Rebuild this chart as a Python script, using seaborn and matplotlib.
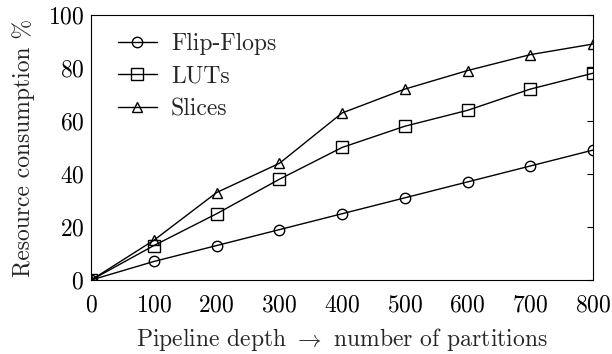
import matplotlib
matplotlib.use("Agg")
import matplotlib.pyplot as plt
import seaborn as sns
import pandas as pd

depth = [0, 100, 200, 300, 400, 500, 600, 700, 800]
flip_flops = [0, 7, 13, 19, 25, 31, 37, 43, 49]
luts = [0, 13, 25, 38, 50, 58, 64, 72, 78]
slices = [0, 15, 33, 44, 63, 72, 79, 85, 89]
series_names = ["Flip-Flops", "LUTs", "Slices"]
x_ticks = [0, 100, 200, 300, 400, 500, 600, 700, 800]
y_ticks = [0, 20, 40, 60, 80, 100]

sns.set_theme(style="white")
plt.rcParams["font.family"] = ["cmr10", "DejaVu Serif"]
plt.rcParams["mathtext.fontset"] = "cm"
plt.rcParams["axes.formatter.use_mathtext"] = True

FS = 17

fig = plt.figure(figsize=(6.12, 3.54), dpi=100)
ax = fig.add_axes([0.149, 0.209, 0.82, 0.749])

markers = ["o", "s", "^"]
sizes = [7.5, 8, 7.5]
for name, vals, m, ms in zip(series_names, [flip_flops, luts, slices], markers, sizes):
    df = pd.DataFrame({"depth": depth, "value": vals})
    sns.lineplot(data=df, x="depth", y="value", ax=ax, color="black",
                 marker=m, markersize=ms,
                 markerfacecolor="none", markeredgecolor="black",
                 markeredgewidth=1.0, linewidth=1.0, label=name)

ax.set_xlim(0, 800)
ax.set_ylim(0, 100)
ax.set_xticks(x_ticks)
ax.set_yticks(y_ticks)
ax.tick_params(direction="in", length=4.5, width=0.8, right=True, top=False,
               labelsize=FS, colors="black")
ax.tick_params(axis="x", pad=10)
ax.tick_params(axis="y", pad=5)
for s in ax.spines.values():
    s.set_color("black")
    s.set_linewidth(0.8)
ax.set_xlabel(r"Pipeline depth $\to$ number of partitions", fontsize=FS, labelpad=7)
ax.set_ylabel("Resource consumption %", fontsize=FS, labelpad=9)
leg = ax.legend(loc="upper left", frameon=False, fontsize=FS,
                bbox_to_anchor=(0.02, 0.995), handlelength=1.65, handletextpad=0.6,
                labelspacing=0.45, borderpad=0.2)
fig.savefig("out.png", dpi=100)
